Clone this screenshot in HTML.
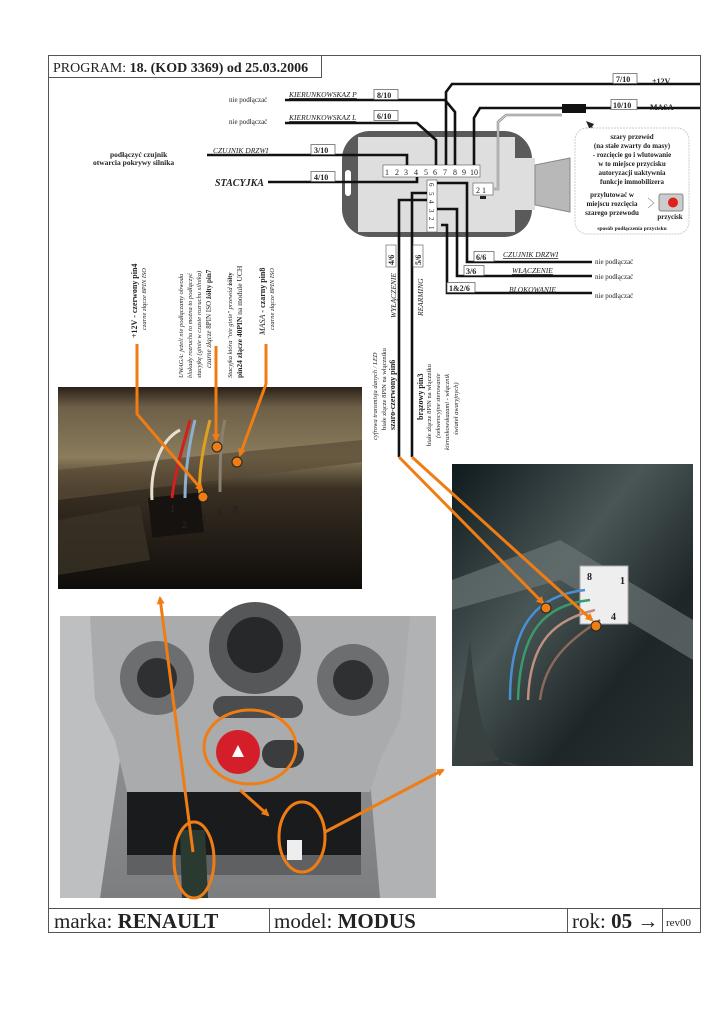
<!DOCTYPE html>
<html><head><meta charset="utf-8"><style>
html,body{margin:0;padding:0;background:#fff}
svg{display:block}
text{font-family:"Liberation Serif",serif;fill:#222}
</style></head><body>
<svg width="724" height="1024" viewBox="0 0 724 1024" xmlns="http://www.w3.org/2000/svg">
<defs>
<linearGradient id="g1" x1="0" y1="0" x2="0" y2="1"><stop offset="0" stop-color="#2a2118"/><stop offset="0.1" stop-color="#6e6048"/><stop offset="0.35" stop-color="#8a7c5c"/><stop offset="0.5" stop-color="#3a3024"/><stop offset="1" stop-color="#0e0c0a"/></linearGradient>
<linearGradient id="g2" x1="0" y1="0" x2="1" y2="1"><stop offset="0" stop-color="#0e1a1c"/><stop offset="0.4" stop-color="#4a5656"/><stop offset="0.7" stop-color="#1e2628"/><stop offset="1" stop-color="#2a3232"/></linearGradient>
<linearGradient id="g3" x1="0" y1="0" x2="0" y2="1"><stop offset="0" stop-color="#9a9c9e"/><stop offset="1" stop-color="#7c7e80"/></linearGradient>
<marker id="ah" markerWidth="8" markerHeight="8" refX="6" refY="4" orient="auto" markerUnits="userSpaceOnUse"><path d="M0,0 L8,4 L0,8 z" fill="#f07c14"/></marker>
</defs>
<rect x="48.5" y="55.5" width="652" height="877" fill="none" stroke="#555" stroke-width="1"/>
<rect x="48.5" y="55.5" width="273" height="22" fill="#fff" stroke="#555"/>
<text x="53" y="72" font-size="14">PROGRAM: <tspan font-weight="bold">18. (KOD 3369) od 25.03.2006</tspan></text>

<rect x="342" y="131" width="190" height="106" rx="28" fill="#5a5a5a"/>
<rect x="358" y="137" width="157" height="95" fill="#dedede"/>
<rect x="515" y="158" width="20" height="52" fill="#dedede"/>
<path d="M535,165 L570,158 L570,212 L535,205 z" fill="#b8b8b8" stroke="#888"/>
<rect x="345" y="170" width="6" height="26" rx="3" fill="#fff"/>
<rect x="383" y="165" width="97" height="12" fill="#fff" stroke="#555" stroke-width="0.6"/>
<g>
<text x="385" y="175" font-family="Liberation Sans" font-size="8">1</text><text x="395" y="175" font-family="Liberation Sans" font-size="8">2</text><text x="404" y="175" font-family="Liberation Sans" font-size="8">3</text><text x="414" y="175" font-family="Liberation Sans" font-size="8">4</text><text x="424" y="175" font-family="Liberation Sans" font-size="8">5</text><text x="433" y="175" font-family="Liberation Sans" font-size="8">6</text><text x="443" y="175" font-family="Liberation Sans" font-size="8">7</text><text x="453" y="175" font-family="Liberation Sans" font-size="8">8</text><text x="462" y="175" font-family="Liberation Sans" font-size="8">9</text><text x="470" y="175" font-family="Liberation Sans" font-size="8">10</text>
</g>
<rect x="427" y="180" width="10" height="52" fill="#fff" stroke="#555" stroke-width="0.6"/>
<g>
<text transform="translate(429,183) rotate(90)" font-family="Liberation Sans" font-size="7">6</text>
<text transform="translate(429,192) rotate(90)" font-family="Liberation Sans" font-size="7">5</text>
<text transform="translate(429,200) rotate(90)" font-family="Liberation Sans" font-size="7">4</text>
<text transform="translate(429,209) rotate(90)" font-family="Liberation Sans" font-size="7">3</text>
<text transform="translate(429,217) rotate(90)" font-family="Liberation Sans" font-size="7">2</text>
<text transform="translate(429,226) rotate(90)" font-family="Liberation Sans" font-size="7">1</text>
</g>
<rect x="473" y="183" width="20" height="12" fill="#fff" stroke="#555" stroke-width="0.6"/>
<text x="476" y="193" font-size="8" font-family="Liberation Sans">2 1</text>
<rect x="480" y="196" width="6" height="3" fill="#222"/>

<g fill="none" stroke="#111" stroke-width="2.6">
<polyline points="207,155 407,155 407,165"/>
<polyline points="268,182 417,182 417,177"/>
<polyline points="285,123 417,123 436,140 436,165"/>
<polyline points="285,100 445,100 455,112 455,165"/>
<polyline points="446,165 446,92 452,84 700,84"/>
<polyline points="474,165 474,118 480,108 562,108"/>
<polyline points="586,108 700,108"/>
<polyline points="437,183 467,183 467,262 592,262"/>
<polyline points="437,209 457,209 457,276 592,276"/>
<polyline points="441,225 447,225 447,293 592,293"/>
<polyline points="427,193 412,193 412,457"/>
<polyline points="427,200 399,200 399,457"/>
</g>
<polyline points="493,189 498,189 498,122 506,115 562,115" fill="none" stroke="#888" stroke-width="2.5"/>
<polyline points="493,189 498,189 498,122 506,115 562,115" fill="none" stroke="#ddd" stroke-width="1"/>
<rect x="562" y="104" width="24" height="9" fill="#111"/>
<path d="M590,125 L602,141" stroke="#222" stroke-width="1"/><path d="M586,121 L594,124 L590,130 z" fill="#222"/>

<g>
<rect x="613" y="73.5" width="24" height="10" fill="#fff" stroke="#555" stroke-width="0.7"/><text x="616" y="82" font-size="8" font-weight="bold">7/10</text>
<text x="652" y="84" font-size="8" font-weight="bold">+12V</text>
<rect x="374" y="89.5" width="24" height="10" fill="#fff" stroke="#555" stroke-width="0.7"/><text x="377" y="98" font-size="8" font-weight="bold">8/10</text>
<rect x="374" y="110.5" width="24" height="10" fill="#fff" stroke="#555" stroke-width="0.7"/><text x="377" y="119" font-size="8" font-weight="bold">6/10</text>
<rect x="611" y="99.5" width="26" height="10" fill="#fff" stroke="#555" stroke-width="0.7"/><text x="613" y="108" font-size="8" font-weight="bold">10/10</text>
<text x="650" y="110" font-size="8" font-weight="bold">MASA</text>
<rect x="311" y="144.5" width="24" height="10" fill="#fff" stroke="#555" stroke-width="0.7"/><text x="314" y="153" font-size="8" font-weight="bold">3/10</text>
<rect x="311" y="171.5" width="24" height="10" fill="#fff" stroke="#555" stroke-width="0.7"/><text x="314" y="180" font-size="8" font-weight="bold">4/10</text>
<rect x="474" y="251.5" width="20" height="10" fill="#fff" stroke="#555" stroke-width="0.7"/><text x="476" y="260" font-size="8" font-weight="bold">6/6</text>
<rect x="464" y="265.5" width="20" height="10" fill="#fff" stroke="#555" stroke-width="0.7"/><text x="466" y="274" font-size="8" font-weight="bold">3/6</text>
<rect x="447" y="282.5" width="28" height="10" fill="#fff" stroke="#555" stroke-width="0.7"/><text x="449" y="291" font-size="8" font-weight="bold">1&amp;2/6</text>
</g>
<g>
<text x="229" y="102" font-size="7">nie podłączać</text>
<text x="229" y="124" font-size="7">nie podłączać</text>
<text x="289" y="97" font-style="italic" font-size="7.5" text-decoration="underline">KIERUNKOWSKAZ P</text>
<text x="289" y="120" font-style="italic" font-size="7.5" text-decoration="underline">KIERUNKOWSKAZ L</text>
<text x="213" y="153" font-style="italic" font-size="7.5" text-decoration="underline">CZUJNIK DRZWI</text>
<text x="110" y="157" font-size="7.5" font-weight="bold">podłączyć czujnik</text>
<text x="93" y="165" font-size="7.5" font-weight="bold">otwarcia pokrywy silnika</text>
<text x="215" y="186" font-size="10" font-weight="bold" font-style="italic">STACYJKA</text>
<text x="503" y="257" font-style="italic" font-size="7.5" text-decoration="underline">CZUJNIK DRZWI</text>
<text x="512" y="273" font-style="italic" font-size="7.5" text-decoration="underline">WŁĄCZENIE</text>
<text x="509" y="292" font-style="italic" font-size="7.5" text-decoration="underline">BLOKOWANIE</text>
<text x="595" y="264" font-size="7">nie podłączać</text>
<text x="595" y="279" font-size="7">nie podłączać</text>
<text x="595" y="298" font-size="7">nie podłączać</text>
</g>

<rect x="575" y="128" width="114" height="106" rx="12" fill="#fff" stroke="#ccc" stroke-dasharray="2,1"/>
<g text-anchor="middle">
<text x="632" y="139" font-size="7" font-weight="bold">szary przewód</text>
<text x="632" y="148" font-size="7" font-weight="bold">(na stałe zwarty do masy)</text>
<text x="632" y="157" font-size="7" font-weight="bold">- rozcięcie go i wlutowanie</text>
<text x="632" y="166" font-size="7" font-weight="bold">w to miejsce przycisku</text>
<text x="632" y="175" font-size="7" font-weight="bold">autoryzacji uaktywnia</text>
<text x="632" y="184" font-size="7" font-weight="bold">funkcje immobilizera</text>
<text x="612" y="197" font-size="7" font-weight="bold">przylutować w</text>
<text x="612" y="206" font-size="7" font-weight="bold">miejscu rozcięcia</text>
<text x="612" y="215" font-size="7" font-weight="bold">szarego przewodu</text>
<text x="670" y="219" font-size="7" font-weight="bold">przycisk</text>
<text x="632" y="230" font-size="5.5" font-weight="bold">sposób podłączenia przycisku</text>
</g>
<rect x="659" y="194" width="24" height="17" rx="2" fill="#ccc" stroke="#888"/>
<circle cx="673" cy="202.5" r="5" fill="#e0201c"/>
<path d="M648,198 L654,203 L648,208" fill="none" stroke="#888" stroke-width="0.6"/>

<g>
<text transform="translate(137,338) rotate(-90)" font-size="8" font-weight="bold">+12V - czerwony pin4</text>
<text transform="translate(146,330) rotate(-90)" font-size="6.5" font-style="italic">czarne złącze 8PIN ISO</text>
<text transform="translate(183,378) rotate(-90)" font-size="6.5" font-style="italic">UWAGA: jeżeli nie podłączamy obwodu</text>
<text transform="translate(192,378) rotate(-90)" font-size="6.5" font-style="italic">blokady rozruchu to można to podłączyć</text>
<text transform="translate(201,378) rotate(-90)" font-size="6.5" font-style="italic">stacyjkę (ginie w czasie rozruchu silnika)</text>
<text transform="translate(211,368) rotate(-90)" font-size="7" font-style="italic">czarne złącze <tspan font-style="normal">8PIN ISO</tspan> <tspan font-weight="bold" font-style="normal">żółty pin7</tspan></text>
<text transform="translate(232,378) rotate(-90)" font-size="6.5" font-style="italic">Stacyjka która "nie ginie" przewód <tspan font-weight="bold" font-style="normal">żółty</tspan></text>
<text transform="translate(242,378) rotate(-90)" font-size="7.5"><tspan font-weight="bold">pin24 złącze 40PIN</tspan> na module UCH</text>
<text transform="translate(265,335) rotate(-90)" font-size="8"><tspan font-style="italic">MASA</tspan> <tspan font-weight="bold">- czarny pin8</tspan></text>
<text transform="translate(274,330) rotate(-90)" font-size="6.5" font-style="italic">czarne złącze 8PIN ISO</text>
</g>
<g>
<rect x="386" y="245" width="10" height="22" fill="#fff" stroke="#555" stroke-width="0.6"/>
<text transform="translate(394,265) rotate(-90)" font-size="8" font-weight="bold">4/6</text>
<rect x="413" y="245" width="10" height="22" fill="#fff" stroke="#555" stroke-width="0.6"/>
<text transform="translate(421,265) rotate(-90)" font-size="8" font-weight="bold">5/6</text>
<text transform="translate(396,318) rotate(-90)" font-size="7.5" font-style="italic">WYŁĄCZENIE</text>
<text transform="translate(423,316) rotate(-90)" font-size="7.5" font-style="italic">REARMING</text>
<text transform="translate(377,440) rotate(-90)" font-size="6.5" font-style="italic">cyfrowa transmisja danych / LED</text>
<text transform="translate(386,430) rotate(-90)" font-size="6.5">białe złącze 8PIN na włączniku</text>
<text transform="translate(395,430) rotate(-90)" font-size="8" font-weight="bold">szaro-czerwony pin6</text>
<text transform="translate(423,420) rotate(-90)" font-size="8" font-weight="bold">brązowy pin3</text>
<text transform="translate(431,446) rotate(-90)" font-size="6.5">białe złącze 8PIN na włączniku</text>
<text transform="translate(440,438) rotate(-90)" font-size="6.5" font-style="italic">(sekwencyjne sterowanie</text>
<text transform="translate(449,450) rotate(-90)" font-size="6.5" font-style="italic">kierunkowskazami - włącznik</text>
<text transform="translate(458,435) rotate(-90)" font-size="6.5" font-style="italic">świateł awaryjnych)</text>
</g>

<rect x="58" y="387" width="304" height="202" fill="url(#g1)"/>
<path d="M58,470 L362,440 L362,462 L58,500 z" fill="#5a4c36" opacity="0.7"/>
<path d="M58,520 L140,505 L150,560 L58,575 z" fill="#3a3226" opacity="0.8"/>
<rect x="150" y="495" width="52" height="40" fill="#161210" transform="rotate(-6 176 515)"/>
<g fill="none" stroke-width="3">
<path d="M152,500 C150,470 160,440 180,430" stroke="#e8e0d0"/>
<path d="M172,498 C175,470 185,440 190,420" stroke="#d02020"/>
<path d="M185,498 C185,470 190,440 195,420" stroke="#8cb0d0"/>
<path d="M200,495 C198,470 205,440 210,420" stroke="#e0a020"/>
<path d="M220,492 C220,470 220,440 225,420" stroke="#8a8070"/>
</g>
<text x="170" y="512" fill="#fff" font-size="10" font-weight="bold">1</text><text x="182" y="528" fill="#fff" font-size="10" font-weight="bold">2</text><text x="201" y="522" fill="#fff" font-size="10" font-weight="bold">4</text><text x="217" y="516" fill="#fff" font-size="10" font-weight="bold">6</text><text x="233" y="513" fill="#fff" font-size="10" font-weight="bold">8</text>

<rect x="452" y="464" width="241" height="302" fill="url(#g2)"/>
<path d="M452,580 L560,540 L693,620 L693,660 L560,580 L452,610 z" fill="#6a7474" opacity="0.7"/>
<rect x="580" y="566" width="48" height="58" fill="#eee" stroke="#aaa"/>
<path d="M470,640 C480,760 500,766 520,766 L500,760 L452,766 z" fill="#384040"/>
<g fill="none" stroke-width="2.5">
<path d="M585,590 C540,595 510,620 510,700" stroke="#4a90d0"/>
<path d="M590,600 C545,605 520,630 518,700" stroke="#3a9a6a"/>
<path d="M595,610 C555,620 530,640 528,700" stroke="#c09080"/>
<path d="M600,620 C570,640 545,660 540,700" stroke="#8a6a5a"/>
</g>
<text x="587" y="580" font-size="10" font-weight="bold" fill="#222">8</text><text x="620" y="584" font-size="10" font-weight="bold" fill="#222">1</text><text x="611" y="620" font-size="10" font-weight="bold" fill="#222">4</text>

<rect x="60" y="616" width="376" height="282" fill="url(#g3)"/>
<path d="M60,616 L110,616 L120,760 L100,898 L60,898 z" fill="#bdbfc0"/>
<path d="M400,616 L436,616 L436,898 L380,898 L370,780 z" fill="#b0b2b4"/>
<path d="M90,616 L410,616 L400,720 L380,760 L370,792 L127,792 L115,740 L95,700 z" fill="#a9abad"/>
<circle cx="157" cy="678" r="37" fill="#6c6e70"/><circle cx="157" cy="678" r="20" fill="#2e3032"/>
<circle cx="255" cy="648" r="46" fill="#555759"/><circle cx="255" cy="645" r="28" fill="#262829"/>
<circle cx="353" cy="680" r="36" fill="#6c6e70"/><circle cx="353" cy="680" r="20" fill="#2e3032"/>
<rect x="213" y="696" width="90" height="22" rx="11" fill="#4a4c4e"/>
<rect x="262" y="740" width="42" height="28" rx="14" fill="#3a3c3e"/>
<circle cx="238" cy="752" r="22" fill="#d41e2a"/>
<path d="M232,757 L238,745 L244,757 z" fill="#fff"/>
<rect x="127" y="792" width="234" height="72" fill="#1a1b1c"/>
<rect x="127" y="855" width="234" height="20" fill="#5e6062"/>
<rect x="287" y="840" width="15" height="20" fill="#eee"/>
<path d="M180,830 L205,830 L208,898 L182,898 z" fill="#2a3a30"/>

<g stroke="#f07c14" stroke-width="3" fill="none">
<polyline points="137,344 137,414 202,490" marker-end="url(#ah)"/>
<polyline points="216,346 216,440" marker-end="url(#ah)"/>
<polyline points="266,344 266,384 240,455" marker-end="url(#ah)"/>
<polyline points="399,457 543,603" marker-end="url(#ah)"/>
<polyline points="412,457 592,620" marker-end="url(#ah)"/>
<line x1="193" y1="852" x2="160" y2="598" marker-end="url(#ah)"/>
<line x1="240" y1="790" x2="268" y2="815" marker-end="url(#ah)"/>
<line x1="325" y1="832" x2="443" y2="770" marker-end="url(#ah)"/>
<ellipse cx="250" cy="747" rx="46" ry="37"/>
<ellipse cx="194" cy="860" rx="20" ry="38"/>
<ellipse cx="302" cy="837" rx="23" ry="35"/>
</g>
<g fill="#f07c14" stroke="#222" stroke-width="1">
<circle cx="217" cy="447" r="5"/><circle cx="237" cy="462" r="5"/><circle cx="203" cy="497" r="5"/>
<circle cx="546" cy="608" r="5"/><circle cx="596" cy="626" r="5"/>
</g>

<rect x="48.5" y="908.5" width="652" height="24" fill="#fff" stroke="#555"/>
<line x1="269.5" y1="908" x2="269.5" y2="933" stroke="#555"/>
<line x1="567.5" y1="908" x2="567.5" y2="933" stroke="#555"/>
<line x1="662.5" y1="908" x2="662.5" y2="933" stroke="#555"/>
<text x="54" y="928" font-size="21">marka: <tspan font-weight="bold">RENAULT</tspan></text>
<text x="274" y="928" font-size="21">model: <tspan font-weight="bold">MODUS</tspan></text>
<text x="572" y="928" font-size="21">rok: <tspan font-weight="bold">05 →</tspan></text>
<text x="666" y="926" font-size="11">rev00</text>
</svg>
</body></html>
